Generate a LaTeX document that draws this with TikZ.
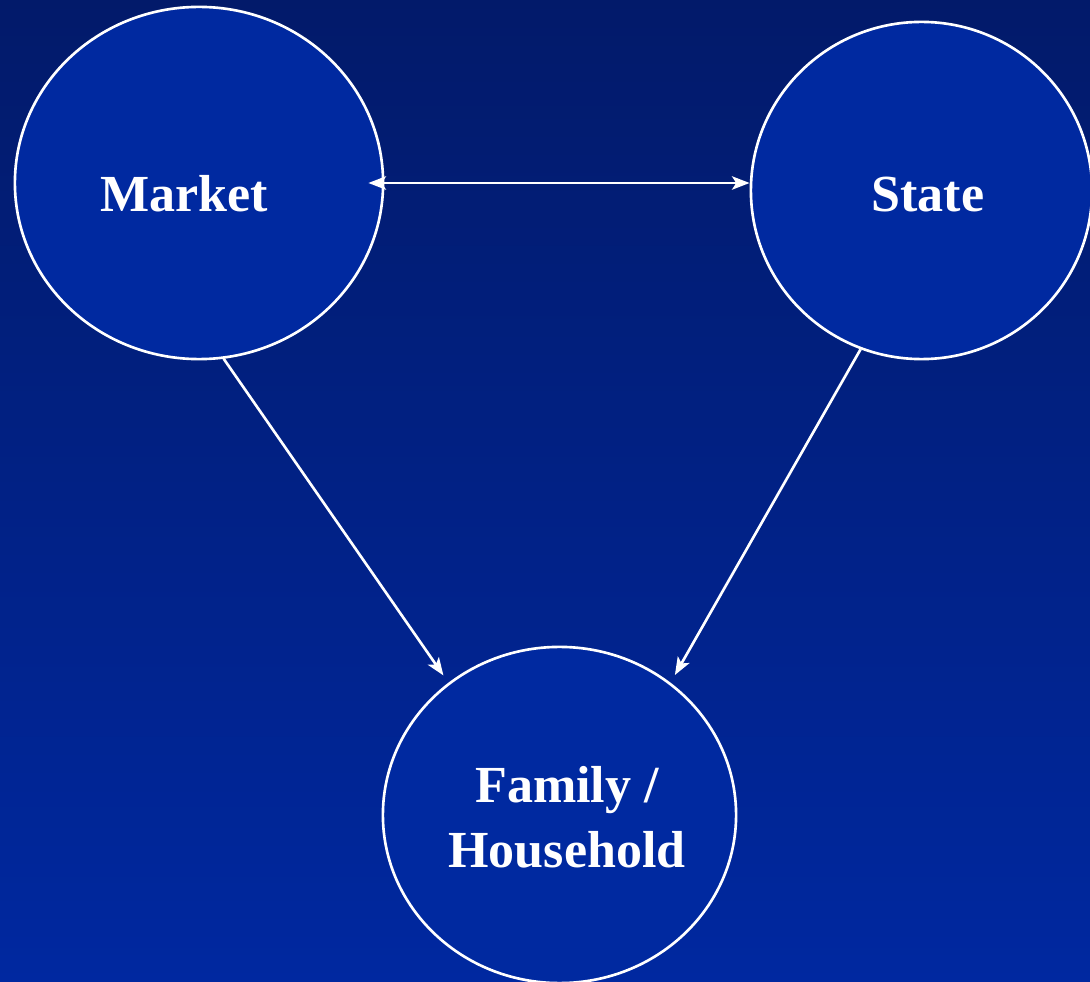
\documentclass[tikz,border=0pt]{standalone}
\usepackage{fontspec}
\setmainfont{Liberation Serif}
\usetikzlibrary{shapes.geometric,arrows.meta}
\definecolor{navytop}{RGB}{2,26,106}
\definecolor{navybot}{RGB}{0,40,160}
\definecolor{circfill}{RGB}{0,41,160}
\begin{document}
\begin{tikzpicture}[x=0.01cm, y=-0.01cm, >={Stealth[length=5pt,width=3.8pt,inset=1.2pt]},
    font=\fontsize{14.8pt}{18.3pt}\selectfont\bfseries,
    sphere/.style={ellipse, draw=white, line width=0.75pt, fill=circfill, inner sep=0pt},
    link/.style={white, line width=0.75pt},
    lbl/.style={text=white, anchor=base, align=center}]
    % background
    \shade[top color=navytop, bottom color=navybot] (0,0) rectangle (1090,982);
    \useasboundingbox (0,0) rectangle (1090,982);
    % the three spheres
    \node[sphere, minimum width=3.68cm, minimum height=3.52cm] (market) at (199,183) {};
    \node[sphere, minimum width=3.41cm, minimum height=3.37cm] (state) at (921.5,190.5) {};
    \node[sphere, minimum width=3.53cm, minimum height=3.36cm] (family) at (559.5,815) {};
    \node[lbl] (marketlbl) at (184,212) {Market};
    \node[lbl] (statelbl) at (928,212) {State};
    \node[lbl] (familylbl) at (567,867) {Family /\\Household};
    % connectors
    \draw[link, <->, shorten <=-0.16cm] (market.east) -- (market.east -| state.west);
    \draw[link, ->, shorten >=2.5pt] (market.-82.5) -- (family.130);
    \draw[link, ->, shorten >=2.5pt] (state.-111) -- (family.50.7);
\end{tikzpicture}
\end{document}
